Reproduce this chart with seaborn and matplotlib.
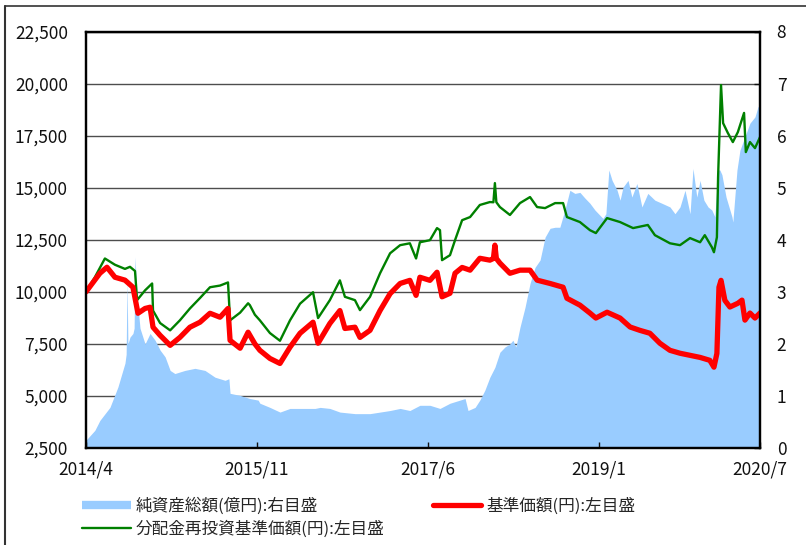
import pandas as pd
import matplotlib
matplotlib.use('Agg')
import matplotlib.pyplot as plt
from matplotlib.ticker import FuncFormatter
from matplotlib.lines import Line2D
import seaborn as sns

sns.set_style('white')
plt.rcParams['font.family'] = ['Noto Sans CJK JP', 'DejaVu Sans']

# ---------------- data ----------------
# 分配金再投資基準価額 (円, left axis)
reinv_dates = ['2014-04-01', '2014-05-01', '2014-06-04', '2014-06-21', '2014-07-08', '2014-08-11',
               '2014-08-28', '2014-09-14', '2014-09-21', '2014-10-18', '2014-11-11', '2014-11-14',
               '2014-12-08', '2015-01-11', '2015-02-13', '2015-03-19', '2015-04-22', '2015-05-26',
               '2015-06-29', '2015-07-26', '2015-08-02', '2015-09-05', '2015-10-02', '2015-10-08',
               '2015-10-25', '2015-11-11', '2015-12-15', '2016-01-18', '2016-02-21', '2016-03-26',
               '2016-05-09', '2016-05-26', '2016-07-05', '2016-08-08', '2016-08-25', '2016-09-28',
               '2016-10-15', '2016-11-18', '2016-12-22', '2017-01-25', '2017-02-28', '2017-04-02',
               '2017-04-23', '2017-05-06', '2017-06-09', '2017-07-03', '2017-07-13', '2017-07-20',
               '2017-08-16', '2017-09-02', '2017-09-26', '2017-10-23', '2017-11-25', '2017-12-29',
               '2018-01-10', '2018-01-15', '2018-01-20', '2018-02-01', '2018-03-07', '2018-04-10',
               '2018-05-14', '2018-06-07', '2018-07-04', '2018-08-07', '2018-09-03', '2018-09-16',
               '2018-10-30', '2018-12-03', '2018-12-23', '2019-01-30', '2019-03-15', '2019-04-28',
               '2019-06-17', '2019-07-11', '2019-08-31', '2019-10-04', '2019-11-07', '2019-12-11',
               '2019-12-27', '2020-01-20', '2020-01-27', '2020-02-06', '2020-02-10', '2020-02-20',
               '2020-02-27', '2020-03-14', '2020-03-31', '2020-04-17', '2020-05-08', '2020-05-14',
               '2020-05-28', '2020-06-14', '2020-07-01']
reinv_values = [10000, 10700, 11600, 11450, 11300, 11100,
                11200, 11000, 9600, 10070, 10400, 9100,
                8500, 8150, 8630, 9200, 9700, 10220,
                10300, 10450, 8630, 9000, 9450, 9360,
                8900, 8630, 8020, 7650, 8630, 9430,
                9980, 8740, 9600, 10550, 9760, 9600,
                9120, 9760, 10890, 11850, 12240, 12330,
                11600, 12380, 12480, 13060, 12960, 11520,
                11760, 12480, 13440, 13590, 14170, 14310,
                14300, 15220, 14300, 14070, 13690, 14260,
                14550, 14070, 14020, 14260, 14260, 13590,
                13350, 12960, 12820, 13540, 13350, 13060,
                13210, 12720, 12330, 12240, 12580, 12380,
                12720, 12140, 11900, 12620, 15500, 19930,
                18100, 17630, 17190, 17670, 18590, 16710,
                17190, 16900, 17430]

# 基準価額 (円, left axis)
nav_dates = ['2014-04-01', '2014-05-18', '2014-06-11', '2014-07-08', '2014-08-11', '2014-09-07',
             '2014-09-24', '2014-10-18', '2014-11-04', '2014-11-14', '2014-12-08', '2015-01-11',
             '2015-02-13', '2015-03-19', '2015-04-22', '2015-05-26', '2015-06-29', '2015-07-26',
             '2015-08-02', '2015-09-05', '2015-10-02', '2015-10-25', '2015-11-11', '2015-12-15',
             '2016-01-18', '2016-02-21', '2016-03-26', '2016-05-09', '2016-05-26', '2016-07-05',
             '2016-08-08', '2016-08-25', '2016-09-28', '2016-10-15', '2016-11-18', '2016-12-22',
             '2017-01-25', '2017-02-28', '2017-04-02', '2017-04-23', '2017-05-06', '2017-06-09',
             '2017-07-03', '2017-07-20', '2017-08-16', '2017-09-02', '2017-09-26', '2017-10-23',
             '2017-11-25', '2017-12-29', '2018-01-10', '2018-01-15', '2018-01-20', '2018-02-01',
             '2018-03-07', '2018-04-10', '2018-05-14', '2018-06-07', '2018-07-21', '2018-09-03',
             '2018-09-16', '2018-10-30', '2018-12-03', '2018-12-23', '2019-01-30', '2019-03-15',
             '2019-04-18', '2019-05-21', '2019-06-24', '2019-07-28', '2019-08-31', '2019-10-04',
             '2019-11-07', '2019-12-11', '2020-01-13', '2020-01-27', '2020-02-06', '2020-02-13',
             '2020-02-20', '2020-03-04', '2020-03-21', '2020-04-17', '2020-05-01', '2020-05-11',
             '2020-05-28', '2020-06-14', '2020-07-01']
nav_values = [10000, 10890, 11180, 10700, 10560, 10220,
              8970, 9200, 9260, 8300, 7910, 7430,
              7810, 8300, 8540, 8970, 8780, 9200,
              7670, 7290, 8060, 7500, 7190, 6800,
              6560, 7340, 8010, 8540, 7530, 8480,
              9100, 8240, 8300, 7810, 8150, 9100,
              9910, 10400, 10550, 9830, 10700, 10550,
              10940, 9760, 9930, 10890, 11170, 11040,
              11610, 11520, 11600, 12240, 11600, 11380,
              10890, 11040, 11040, 10560, 10400, 10220,
              9690, 9360, 8980, 8740, 9020, 8740,
              8310, 8150, 8010, 7530, 7190, 7050,
              6950, 6850, 6710, 6380, 7040, 10220,
              10550, 9590, 9270, 9450, 9600, 8640,
              8980, 8740, 8980]

# 純資産総額 (right axis)
asset_dates = ['2014-04-01', '2014-05-01', '2014-05-18', '2014-06-21', '2014-07-18', '2014-08-11',
               '2014-08-15', '2014-08-18', '2014-08-21', '2014-08-28', '2014-09-07', '2014-09-11',
               '2014-09-14', '2014-09-21', '2014-10-01', '2014-10-18', '2014-11-04', '2014-11-21',
               '2014-12-08', '2014-12-25', '2015-01-11', '2015-01-27', '2015-03-02', '2015-04-05',
               '2015-05-09', '2015-06-12', '2015-07-16', '2015-07-29', '2015-08-02', '2015-09-05',
               '2015-10-08', '2015-11-05', '2015-11-11', '2015-12-15', '2016-01-18', '2016-02-21',
               '2016-03-26', '2016-05-16', '2016-06-02', '2016-07-05', '2016-08-08', '2016-09-28',
               '2016-11-18', '2016-12-22', '2017-01-25', '2017-02-28', '2017-04-02', '2017-05-06',
               '2017-06-09', '2017-07-13', '2017-08-16', '2017-09-19', '2017-10-06', '2017-10-16',
               '2017-11-09', '2017-11-25', '2017-12-12', '2017-12-29', '2018-01-15', '2018-02-01',
               '2018-02-18', '2018-03-07', '2018-03-17', '2018-03-27', '2018-04-10', '2018-04-27',
               '2018-05-14', '2018-05-31', '2018-06-17', '2018-07-04', '2018-07-21', '2018-08-07',
               '2018-08-23', '2018-09-09', '2018-09-26', '2018-10-13', '2018-10-30', '2018-11-16',
               '2018-12-03', '2018-12-20', '2019-01-16', '2019-01-26', '2019-02-05', '2019-02-16',
               '2019-03-05', '2019-03-15', '2019-03-25', '2019-04-11', '2019-04-24', '2019-05-11',
               '2019-05-28', '2019-06-17', '2019-07-11', '2019-08-04', '2019-08-31', '2019-09-17',
               '2019-10-04', '2019-10-21', '2019-11-07', '2019-11-17', '2019-11-30', '2019-12-11',
               '2019-12-24', '2020-01-07', '2020-01-20', '2020-01-30', '2020-02-10', '2020-02-16',
               '2020-02-23', '2020-03-08', '2020-03-28', '2020-03-31', '2020-04-14', '2020-04-24',
               '2020-05-11', '2020-05-28', '2020-06-14', '2020-06-24', '2020-07-01']
asset_values = [0.15, 0.34, 0.53, 0.78, 1.17, 1.63,
                1.80, 3.22, 2.00, 2.13, 2.20, 2.30,
                3.67, 2.90, 2.30, 2.00, 2.20, 2.07,
                1.88, 1.75, 1.49, 1.43, 1.49, 1.53,
                1.49, 1.36, 1.30, 1.33, 1.05, 1.01,
                0.95, 0.92, 0.86, 0.78, 0.69, 0.76,
                0.76, 0.76, 0.78, 0.76, 0.69, 0.66,
                0.66, 0.69, 0.72, 0.76, 0.72, 0.82,
                0.82, 0.76, 0.86, 0.92, 0.95, 0.72,
                0.78, 0.92, 1.11, 1.36, 1.55, 1.84,
                1.94, 2.00, 2.07, 1.94, 2.32, 2.70,
                3.16, 3.47, 3.61, 4.05, 4.22, 4.24,
                4.24, 4.57, 4.95, 4.89, 4.91, 4.80,
                4.70, 4.57, 4.41, 4.50, 5.34, 5.14,
                4.95, 4.76, 5.01, 5.14, 4.82, 5.08,
                4.63, 4.89, 4.76, 4.70, 4.63, 4.50,
                4.63, 4.95, 4.50, 5.37, 4.82, 5.14,
                4.76, 4.63, 4.57, 4.44, 5.34, 5.34,
                5.25, 4.82, 4.44, 4.34, 5.34, 5.72,
                5.98, 6.24, 6.36, 6.55, 6.60]

xtick_dates = ['2014-04-01', '2015-11-01', '2017-06-01', '2019-01-01', '2020-07-01']
xtick_labels = ['2014/4', '2015/11', '2017/6', '2019/1', '2020/7']
left_ticks = [2500, 5000, 7500, 10000, 12500, 15000, 17500, 20000, 22500]
right_ticks = [0, 1, 2, 3, 4, 5, 6, 7, 8]

labels = ['純資産総額(億円):右目盛', '分配金再投資基準価額(円):左目盛', '基準価額(円):左目盛']

# ---------------- plot ----------------
fig = plt.figure(figsize=(8.06, 5.45), dpi=100)
ax = fig.add_axes([86 / 806, 1 - 448 / 545, 674 / 806, 416.5 / 545])
ax2 = ax.twinx()
ax.set_zorder(2)
ax2.set_zorder(1)
ax.patch.set_visible(False)
ax2.patch.set_facecolor('white')

# area on right axis (gridlines live here so the area covers them)
ax2.set_axisbelow(True)
ax2.grid(axis='y', color='#4d4d4d', linewidth=1.0)
ax2.fill_between(pd.to_datetime(asset_dates), asset_values, 0,
                 color='#99ccff', linewidth=0)
ax2.set_ylim(0, 8)
ax2.set_yticks(right_ticks)

sns.lineplot(x=pd.to_datetime(reinv_dates), y=reinv_values, ax=ax,
             color='#008000', linewidth=1.7)
sns.lineplot(x=pd.to_datetime(nav_dates), y=nav_values, ax=ax,
             color='#ff0000', linewidth=3.8)

ax.set_ylim(2500, 22500)
ax.set_yticks(left_ticks)
ax.yaxis.set_major_formatter(FuncFormatter(lambda v, p: f'{v:,.0f}'))
ax.set_xlim(pd.Timestamp('2014-04-01'), pd.Timestamp('2020-07-01'))
ax.set_xticks(pd.to_datetime(xtick_dates))
ax.set_xticklabels(xtick_labels)
ax.set_xlabel('')
ax.set_ylabel('')

ax.tick_params(axis='y', left=True, length=0, pad=13, labelsize=12.5, colors='#111111')
ax.tick_params(axis='x', bottom=True, direction='in', length=4, width=1,
               pad=9, labelsize=12.5, colors='#111111')
ax2.tick_params(axis='y', right=True, direction='in', length=4, width=1,
                pad=12, labelsize=12.5, colors='#111111')

for a in (ax, ax2):
    for s in a.spines.values():
        s.set_color('black')
        s.set_linewidth(1.6)

# legend
handles = [Line2D([], [], color='#99ccff', linewidth=6, solid_capstyle='butt'),
           Line2D([], [], color='#008000', linewidth=1.7),
           Line2D([], [], color='#ff0000', linewidth=3.8)]
fig.legend(handles, labels, ncol=2, loc='upper left',
           bbox_to_anchor=(74 / 806, 1 - 489 / 545), frameon=False,
           fontsize=12, borderpad=0, handlelength=2.9, handletextpad=0.3,
           columnspacing=2.9, labelspacing=0.35)

# outer frame (top and left edges)
fig.add_artist(Line2D([5 / 806, 1], [1 - 6 / 545, 1 - 6 / 545],
                      transform=fig.transFigure, color='#333333', linewidth=1.2))
fig.add_artist(Line2D([5 / 806, 5 / 806], [0, 1 - 6 / 545],
                      transform=fig.transFigure, color='#333333', linewidth=1.5))

fig.savefig('out.png', dpi=100)
